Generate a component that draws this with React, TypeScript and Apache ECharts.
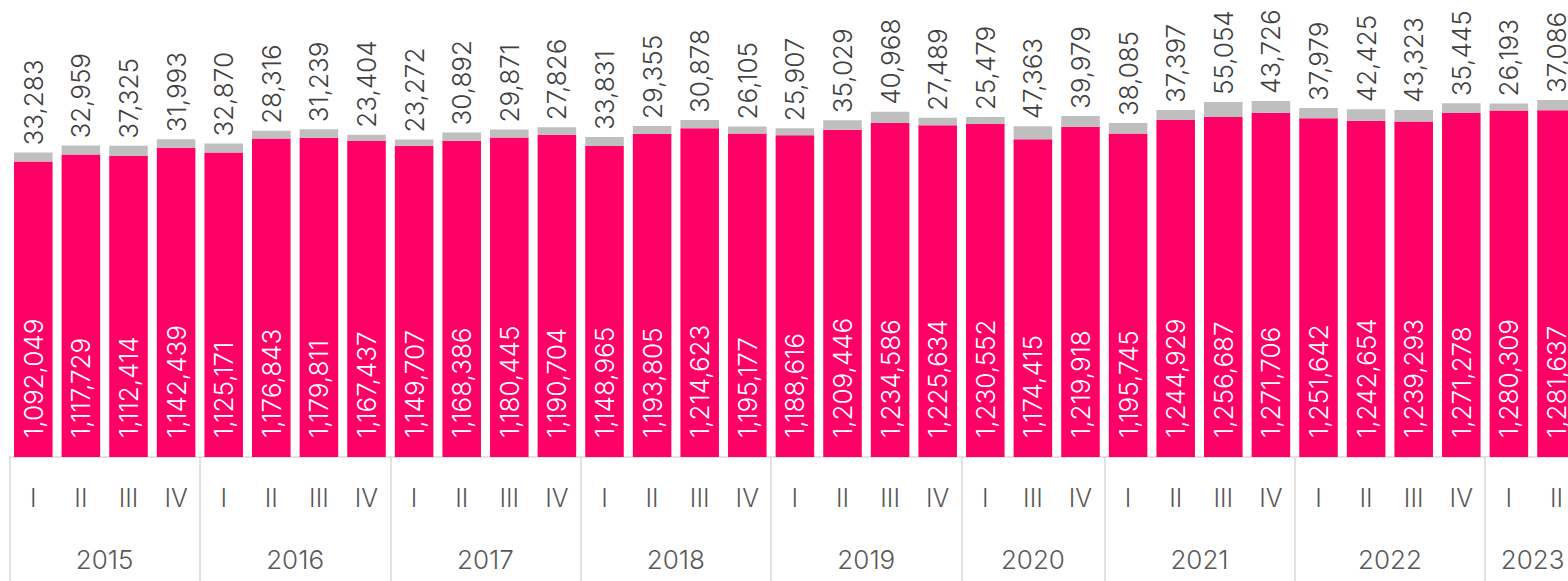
import React, { useEffect, useRef } from "react";
import * as echarts from "echarts";

const years = ["2015", "2016", "2017", "2018", "2019", "2020", "2021", "2022", "2023"];
const quartersByYear = [
  ["I", "II", "III", "IV"],
  ["I", "II", "III", "IV"],
  ["I", "II", "III", "IV"],
  ["I", "II", "III", "IV"],
  ["I", "II", "III", "IV"],
  ["I", "III", "IV"],
  ["I", "II", "III", "IV"],
  ["I", "II", "III", "IV"],
  ["I", "II"],
];
const mainValues = [
  1092049, 1117729, 1112414, 1142439,
  1125171, 1176843, 1179811, 1167437,
  1149707, 1168386, 1180445, 1190704,
  1148965, 1193805, 1214623, 1195177,
  1188616, 1209446, 1234586, 1225634,
  1230552, 1174415, 1219918,
  1195745, 1244929, 1256687, 1271706,
  1251642, 1242654, 1239293, 1271278,
  1280309, 1281637,
];
const topValues = [
  33283, 32959, 37325, 31993,
  32870, 28316, 31239, 23404,
  23272, 30892, 29871, 27826,
  33831, 29355, 30878, 26105,
  25907, 35029, 40968, 27489,
  25479, 47363, 39979,
  38085, 37397, 55054, 43726,
  37979, 42425, 43323, 35445,
  26193, 37086,
];

const FONT = "Inter, 'Noto Sans', sans-serif";
const PINK = "#FF0066";
const GREY = "#BFBFBF";
const AXIS = "#D9D9D9";
const TEXT = "#595959";

export default function App() {
  const ref = useRef<HTMLDivElement>(null);
  useEffect(() => {
    if (!ref.current) return;
    const chart = echarts.init(ref.current, null, { renderer: "svg" });

    const categories: string[] = [];
    quartersByYear.forEach((qs, yi) => qs.forEach((q) => categories.push(years[yi] + " " + q)));

    // year axis: half-quarter points (boundaryGap false)
    const nHalf = categories.length * 2;
    const yearPoints: string[] = new Array(nHalf + 1).fill("");
    const separators = new Set<number>();
    let pos = 0;
    quartersByYear.forEach((qs, yi) => {
      separators.add(pos);
      yearPoints[pos + qs.length] = years[yi];
      pos += qs.length * 2;
    });
    separators.add(pos);

    const fmt = (v: number) => v.toLocaleString("en-US");

    chart.setOption({
      animation: false,
      textStyle: { fontFamily: FONT },
      grid: { left: 9.5, width: 1570.8, top: 24, bottom: 124, containLabel: false },
      xAxis: [
        {
          type: "category",
          data: categories,
          position: "bottom",
          axisLine: { show: true, lineStyle: { color: AXIS, width: 1.5 } },
          axisTick: { show: false },
          axisLabel: {
            interval: 0,
            margin: 28,
            color: TEXT,
            fontSize: 25,
            fontWeight: 300,
            fontFamily: FONT,
            formatter: (v: string) => v.split(" ")[1],
          },
        },
        {
          type: "category",
          data: yearPoints,
          boundaryGap: false,
          position: "bottom",
          offset: 0,
          axisLine: { show: false },
          axisTick: {
            show: true,
            interval: (i: number) => separators.has(i),
            length: 130,
            lineStyle: { color: AXIS, width: 1.5 },
          },
          axisLabel: {
            interval: 0,
            margin: 89,
            color: TEXT,
            fontSize: 26,
            fontWeight: 300,
            fontFamily: FONT,
          },
        },
      ],
      yAxis: {
        type: "value",
        min: 0,
        max: 1600000,
        show: false,
        splitLine: { show: false },
      },
      series: [
        {
          type: "bar",
          stack: "total",
          xAxisIndex: 0,
          data: mainValues,
          barWidth: "81%",
          itemStyle: { color: PINK },
          label: {
            show: true,
            position: "insideBottom",
            rotate: 90,
            align: "left",
            verticalAlign: "middle",
            distance: 19,
            color: "#FFFFFF",
            fontSize: 26,
            fontWeight: 300,
            fontFamily: FONT,
            formatter: (p: any) => fmt(p.value),
          },
        },
        {
          type: "bar",
          stack: "total",
          xAxisIndex: 0,
          data: topValues,
          barWidth: "81%",
          itemStyle: { color: GREY },
          label: {
            show: true,
            position: "top",
            rotate: 90,
            align: "left",
            verticalAlign: "middle",
            distance: 7,
            color: "#404040",
            fontSize: 26,
            fontWeight: 300,
            fontFamily: FONT,
            formatter: (p: any) => fmt(p.value),
          },
        },
      ],
    });
    return () => chart.dispose();
  }, []);
  return (
    <div
      ref={ref}
      style={{ position: "fixed", left: 0, top: 0, width: 1600, height: 581, background: "#fff" }}
    />
  );
}
